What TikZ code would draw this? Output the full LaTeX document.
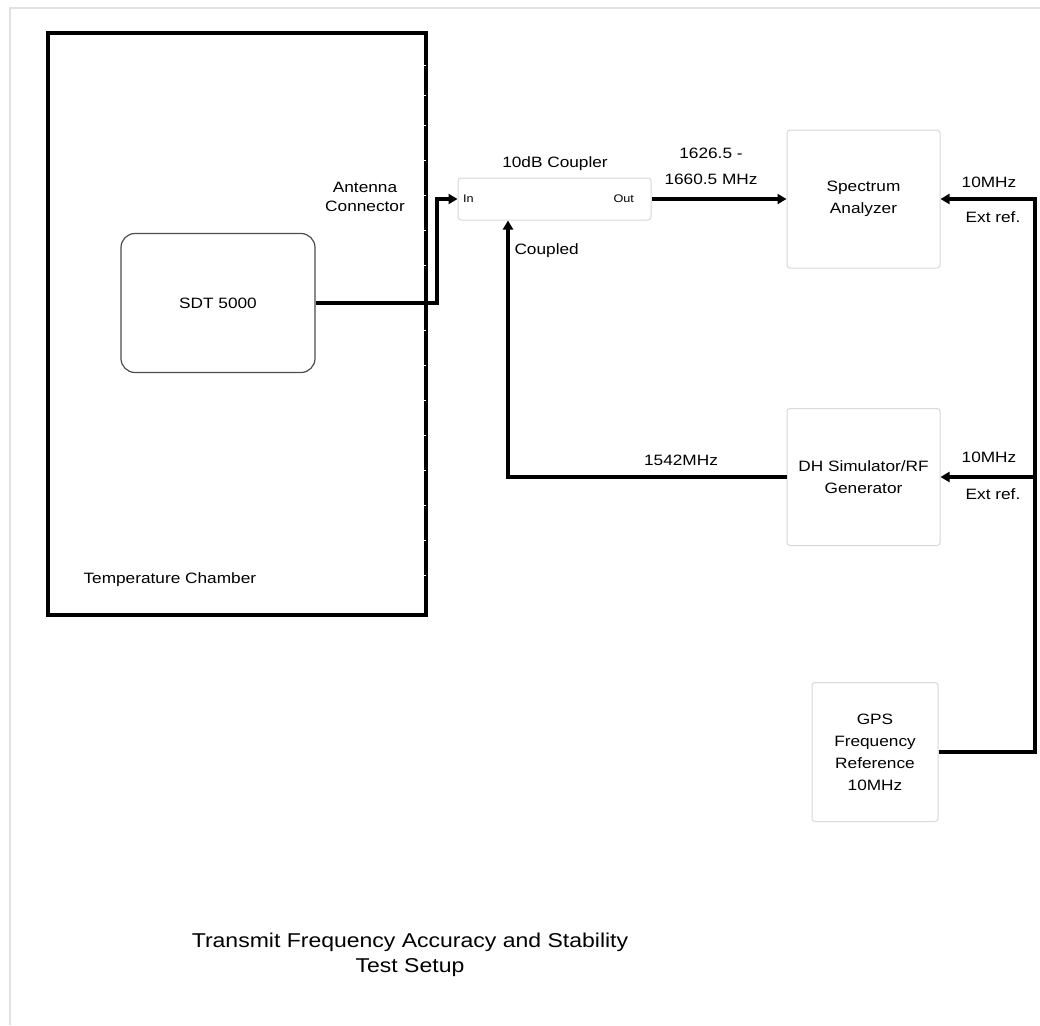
\documentclass[tikz,border=0pt]{standalone}
\usepackage{fontspec}
\setmainfont{Liberation Sans}
\newfontfamily\lblfont[FakeStretch=1.15]{Liberation Sans}
\usetikzlibrary{arrows.meta,positioning,calc}
\definecolor{boxgray}{RGB}{215,215,220}
\definecolor{edgegray}{RGB}{225,225,232}
\tikzset{
 instr/.style={draw=boxgray,line width=1pt,rounded corners=3pt,align=center,
             font=\lblfont\fontsize{15}{22}\selectfont,inner sep=0pt},
 cable/.style={line width=4.5pt},
 arrow/.style={cable,-{Triangle[length=9pt,width=10pt]}},
 lbl/.style={align=center,font=\lblfont\fontsize{15}{26}\selectfont},
 portlbl/.style={font=\lblfont\fontsize{11}{12}\selectfont}
}

\begin{document}
\begin{tikzpicture}[x=1pt,y=-1pt]
\useasboundingbox (0,0) rectangle (1040,1025);
\draw[edgegray,line width=1.5pt] (1040,8) -- (10,8) -- (10,1025);

% chamber
\draw[line width=4pt] (48,33) rectangle (426,615);
\foreach \yy in {65,95,125,160,195,230,265,330,365,400,435,470,505,540,575}
  \draw[white,line width=1pt] (423,\yy) -- (425.5,\yy);
\node[lbl,anchor=west] (chamber) at (80,580) {Temperature Chamber};
\node[draw=black!70,line width=1.2pt,rounded corners=14pt,minimum width=194pt,
      minimum height=139pt,font=\lblfont\fontsize{15}{18}\selectfont] (sdt) at (218,303) {SDT 5000};
\node[lbl,font=\lblfont\fontsize{15}{19}\selectfont] (antenna) at (365,197) {Antenna\\Connector};

% coupler
\node[instr,minimum width=193pt,minimum height=42pt] (coupler) at (554.5,199) {};
\node[portlbl,anchor=west,xshift=2pt] (in) at (coupler.west) {In};
\node[portlbl,anchor=east,xshift=-14pt] (out) at (coupler.east) {Out};
\node[lbl] (couplerlbl) at (555,164) {10dB Coupler};
\node[lbl,anchor=west] (coupled) at (511,251) {Coupled};

% instruments
\node[instr,minimum width=153pt,minimum height=138pt] (spec) at (863.5,199) {Spectrum\\Analyzer};
\node[instr,minimum width=153pt,minimum height=137pt] (dhsim) at (863.5,477) {DH Simulator/RF\\Generator};
\node[instr,minimum width=126pt,minimum height=139pt] (gps) at (875,752) {GPS\\Frequency\\Reference\\10MHz};

% cables
\coordinate (jog) at (437,303);
\coordinate (tap) at (508,477);
\coordinate (refbot) at (1035,752);
\coordinate (reftop) at (1035,199);
\draw[arrow] (sdt.east) -- (jog) |- (coupler.west);
\draw[arrow] (coupler.east) -- (spec.west);
\draw[arrow] (dhsim.west) -- (tap) -- (tap |- coupler.south);
\draw[arrow] (gps.east) -- (refbot) -- (reftop) -- (spec.east);
\draw[arrow] (refbot |- dhsim.east) -- (dhsim.east);

% cable labels
\node[lbl] (rflbl) at (711,166) {1626.5 -\\1660.5 MHz};
\node[lbl] (dhlbl) at (681,460) {1542MHz};
\node[lbl] (ref1) at (989,182) {10MHz};
\node[lbl] (ext1) at (993,217) {Ext ref.};
\node[lbl] (ref2) at (989,457) {10MHz};
\node[lbl] (ext2) at (993,494) {Ext ref.};

% title
\node[align=center,font=\lblfont\fontsize{20}{25}\selectfont] (title) at (410,955)
  {Transmit Frequency Accuracy and Stability\\Test Setup};
\end{tikzpicture}
\end{document}
